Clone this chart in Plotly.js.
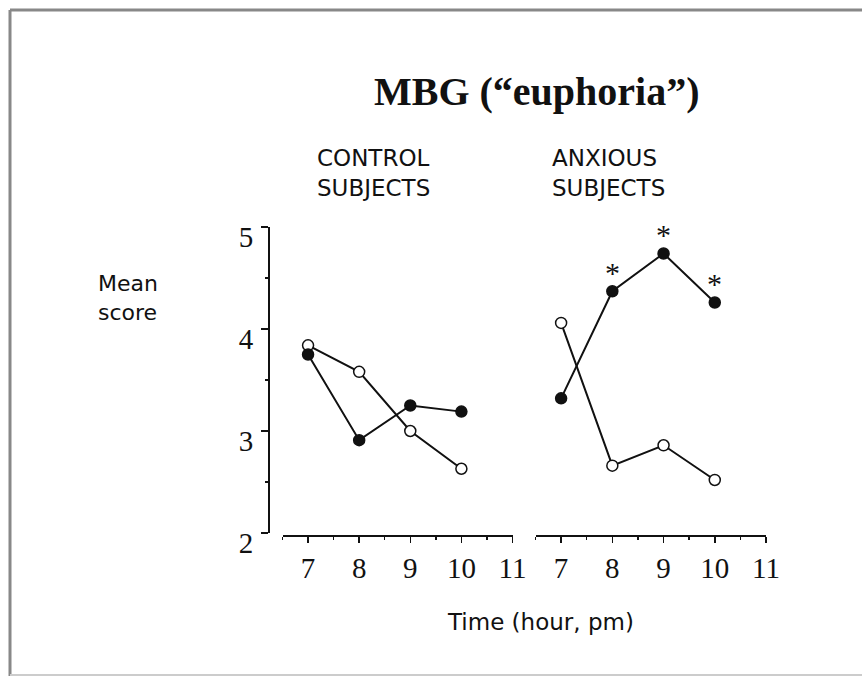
<!DOCTYPE html>
<html>
<head>
<meta charset="utf-8">
<script src="https://cdn.plot.ly/plotly-3.0.1.min.js"></script>
<style>html,body{margin:0;padding:0;background:#fff;}#chart{width:862px;height:677px;}</style>
</head>
<body>
<div id="chart"></div>
<script>
// Data (hour, pm) and mean scores
const hours = [7, 8, 9, 10];
const controlFilled = [3.75, 2.91, 3.25, 3.19];
const controlOpen = [3.84, 3.58, 3.00, 2.63];
const anxiousFilled = [3.32, 4.37, 4.74, 4.26];
const anxiousOpen = [4.06, 2.66, 2.86, 2.52];
const significantHours = [8, 9, 10];
const xTickVals = [7, 8, 9, 10, 11];
const yTickVals = [2, 3, 4, 5];

const W = 862, H = 677;
const px = x => x / W;
const py = y => 1 - y / H;

const lineStyle = {color: '#111', width: 2};
const filledMarker = {symbol: 'circle', size: 11, color: '#111', line: {color: '#111', width: 1.5}};
const openMarker = {symbol: 'circle', size: 11, color: '#fff', line: {color: '#111', width: 1.5}};

const traces = [
  {x: hours, y: controlOpen, xaxis: 'x', yaxis: 'y', mode: 'lines+markers', line: lineStyle, marker: openMarker, cliponaxis: false},
  {x: hours, y: controlFilled, xaxis: 'x', yaxis: 'y', mode: 'lines+markers', line: lineStyle, marker: filledMarker, cliponaxis: false},
  {x: hours, y: anxiousOpen, xaxis: 'x2', yaxis: 'y', mode: 'lines+markers', line: lineStyle, marker: openMarker, cliponaxis: false},
  {x: hours, y: anxiousFilled, xaxis: 'x2', yaxis: 'y', mode: 'lines+markers', line: lineStyle, marker: filledMarker, cliponaxis: false}
];

const serif = '"Liberation Serif", "DejaVu Serif", serif';
const sans = '"DejaVu Sans", Verdana, sans-serif';

const xCommon = {
  range: [6.5, 11], tickmode: 'array', tickvals: xTickVals, ticktext: xTickVals.map(String),
  ticks: 'outside', ticklen: 6, tickwidth: 1.5, tickcolor: '#111',
  minor: {dtick: 0.5, tick0: 6.5, ticks: 'outside', ticklen: 3, tickwidth: 1.5, tickcolor: '#111', showgrid: false},
  showline: true, linecolor: '#111', linewidth: 2, showgrid: false, zeroline: false,
  tickfont: {family: serif, size: 29, color: '#111'}, anchor: 'free', position: py(536),
  fixedrange: true
};

const annotations = [
  {text: 'MBG (\u201ceuphoria\u201d)', x: px(537), y: py(92), xref: 'paper', yref: 'paper', showarrow: false,
   font: {family: serif, size: 40, color: '#111', weight: 'bold'}, xanchor: 'center', yanchor: 'middle'},
  {text: 'CONTROL<br>SUBJECTS', x: px(315), y: py(173), xref: 'paper', yref: 'paper', showarrow: false, align: 'left',
   font: {family: sans, size: 23, color: '#111'}, xanchor: 'left', yanchor: 'middle'},
  {text: 'ANXIOUS<br>SUBJECTS', x: px(550), y: py(173), xref: 'paper', yref: 'paper', showarrow: false, align: 'left',
   font: {family: sans, size: 23, color: '#111'}, xanchor: 'left', yanchor: 'middle'},
  {text: 'Mean<br>score', x: px(96), y: py(298), xref: 'paper', yref: 'paper', showarrow: false, align: 'left',
   font: {family: sans, size: 22, color: '#111'}, xanchor: 'left', yanchor: 'middle'},
  {text: 'Time (hour, pm)', x: px(540), y: py(622), xref: 'paper', yref: 'paper', showarrow: false,
   font: {family: sans, size: 23, color: '#111'}, xanchor: 'center', yanchor: 'middle'}
];
significantHours.forEach(h => {
  const i = hours.indexOf(h);
  annotations.push({text: '*', x: h, y: anxiousFilled[i], xref: 'x2', yref: 'y', showarrow: false,
    font: {family: serif, size: 30, color: '#111'}, xanchor: 'center', yanchor: 'middle', yshift: 19});
});

const layout = {
  width: W, height: H, margin: {l: 0, r: 0, t: 0, b: 0},
  paper_bgcolor: '#fff', plot_bgcolor: 'rgba(0,0,0,0)', showlegend: false,
  xaxis: Object.assign({}, xCommon, {domain: [px(282.5), px(512.5)]}),
  xaxis2: Object.assign({}, xCommon, {domain: [px(535.5), px(766)]}),
  yaxis: {
    range: [2, 5], domain: [py(533), py(227)], tickmode: 'array', tickvals: yTickVals, ticktext: yTickVals.map(String),
    ticks: 'outside', ticklen: 7, tickwidth: 1.5, tickcolor: '#111',
    minor: {dtick: 0.5, ticks: 'outside', ticklen: 3, tickwidth: 1.5, tickcolor: '#111', showgrid: false},
    showline: true, linecolor: '#111', linewidth: 2, showgrid: false, zeroline: false,
    tickfont: {family: serif, size: 29, color: '#111'}, anchor: 'free', position: px(269),
    ticklabelshift: 10, ticklabelstandoff: 2,
    fixedrange: true
  },
  annotations: annotations,
  shapes: [
    {type: 'line', xref: 'paper', yref: 'paper', x0: px(10), x1: 1.01, y0: py(10), y1: py(10), line: {color: '#888', width: 3}},
    {type: 'line', xref: 'paper', yref: 'paper', x0: px(10), x1: px(10), y0: py(10), y1: py(676), line: {color: '#888', width: 3}},
    {type: 'line', xref: 'paper', yref: 'paper', x0: px(10), x1: 1.01, y0: py(675), y1: py(675), line: {color: '#ccc', width: 2}}
  ]
};

Plotly.newPlot('chart', traces, layout, {staticPlot: true, displayModeBar: false});
</script>
</body>
</html>
